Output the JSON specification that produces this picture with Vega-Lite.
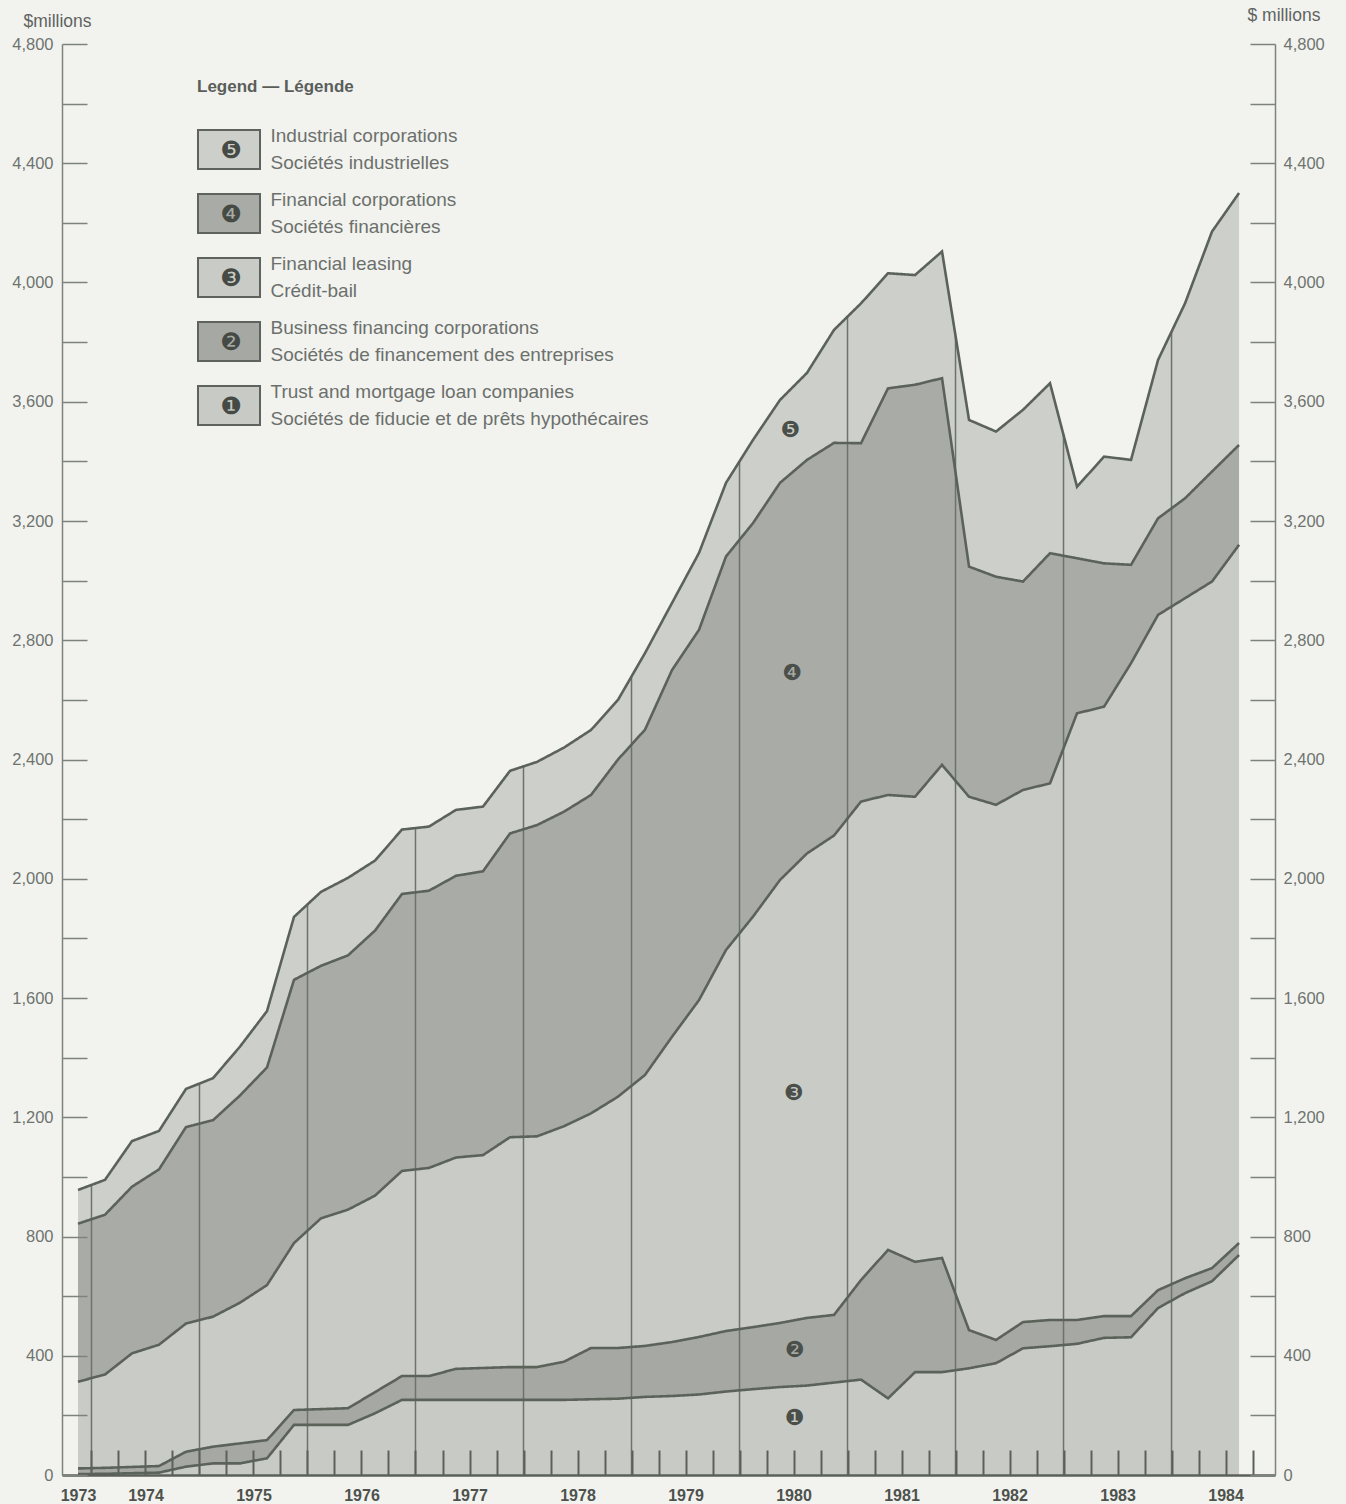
{
  "$schema": "https://vega.github.io/schema/vega-lite/v6.json",
  "width": 1213,
  "height": 1431,
  "autosize": {"type": "none"},
  "padding": {"left": 62, "top": 44, "right": 71, "bottom": 29},
  "background": "#f2f3ef",
  "config": {"view": {"stroke": null}, "font": "Liberation Sans"},
  "datasets": {
    "q": [
      {"t":1973.875,"1":3,"2":19,"3":291,"4":530,"5":113},
      {"t":1974.125,"1":4,"2":20,"3":313,"4":536,"5":117},
      {"t":1974.375,"1":6,"2":21,"3":381,"4":559,"5":153},
      {"t":1974.625,"1":8,"2":22,"3":407,"4":588,"5":129},
      {"t":1974.875,"1":28,"2":50,"3":430,"4":659,"5":128},
      {"t":1975.125,"1":39,"2":56,"3":436,"4":659,"5":141},
      {"t":1975.375,"1":39,"2":67,"3":472,"4":695,"5":164},
      {"t":1975.625,"1":56,"2":61,"3":520,"4":730,"5":189},
      {"t":1975.875,"1":168,"2":50,"3":560,"4":883,"5":211},
      {"t":1976.125,"1":168,"2":53,"3":640,"4":847,"5":248},
      {"t":1976.375,"1":168,"2":56,"3":666,"4":853,"5":260},
      {"t":1976.625,"1":207,"2":71,"3":659,"4":889,"5":235},
      {"t":1976.875,"1":252,"2":80,"3":688,"4":929,"5":216},
      {"t":1977.125,"1":252,"2":80,"3":698,"4":930,"5":215},
      {"t":1977.375,"1":252,"2":104,"3":709,"4":945,"5":221},
      {"t":1977.625,"1":252,"2":107,"3":714,"4":952,"5":217},
      {"t":1977.875,"1":252,"2":110,"3":771,"4":1019,"5":210},
      {"t":1978.125,"1":252,"2":110,"3":774,"4":1044,"5":212},
      {"t":1978.375,"1":252,"2":128,"3":790,"4":1055,"5":215},
      {"t":1978.625,"1":254,"2":172,"3":787,"4":1068,"5":218},
      {"t":1978.875,"1":256,"2":170,"3":843,"4":1131,"5":200},
      {"t":1979.125,"1":262,"2":171,"3":909,"4":1158,"5":257},
      {"t":1979.375,"1":265,"2":181,"3":1024,"4":1230,"5":225},
      {"t":1979.625,"1":270,"2":193,"3":1130,"4":1242,"5":258},
      {"t":1979.875,"1":280,"2":203,"3":1278,"4":1320,"5":247},
      {"t":1980.125,"1":288,"2":208,"3":1377,"4":1320,"5":279},
      {"t":1980.375,"1":295,"2":215,"3":1486,"4":1332,"5":278},
      {"t":1980.625,"1":300,"2":227,"3":1558,"4":1320,"5":292},
      {"t":1980.875,"1":310,"2":227,"3":1608,"4":1317,"5":379},
      {"t":1981.125,"1":320,"2":334,"3":1605,"4":1202,"5":469},
      {"t":1981.375,"1":257,"2":498,"3":1526,"4":1364,"5":386},
      {"t":1981.625,"1":345,"2":370,"3":1560,"4":1382,"5":368},
      {"t":1981.875,"1":345,"2":383,"3":1654,"4":1297,"5":425},
      {"t":1982.125,"1":358,"2":128,"3":1789,"4":772,"5":492},
      {"t":1982.375,"1":375,"2":78,"3":1795,"4":765,"5":487},
      {"t":1982.625,"1":425,"2":88,"3":1785,"4":699,"5":576},
      {"t":1982.875,"1":432,"2":88,"3":1800,"4":772,"5":570},
      {"t":1983.125,"1":440,"2":80,"3":2035,"4":520,"5":240},
      {"t":1983.375,"1":460,"2":73,"3":2044,"4":481,"5":358},
      {"t":1983.625,"1":462,"2":71,"3":2190,"4":330,"5":352},
      {"t":1983.875,"1":560,"2":60,"3":2265,"4":324,"5":531},
      {"t":1984.125,"1":610,"2":50,"3":2281,"4":335,"5":654},
      {"t":1984.375,"1":650,"2":44,"3":2303,"4":369,"5":805},
      {"t":1984.625,"1":738,"2":40,"3":2342,"4":335,"5":845}
    ],
    "series": [
      {"key":"1","num":"❶"},
      {"key":"2","num":"❷"},
      {"key":"3","num":"❸"},
      {"key":"4","num":"❹"},
      {"key":"5","num":"❺"}
    ],
    "years": [
      {"t":1974,"top":973},
      {"t":1975,"top":1313},
      {"t":1976,"top":1914},
      {"t":1977,"top":2170},
      {"t":1978,"top":2375},
      {"t":1979,"top":2680},
      {"t":1980,"top":3400},
      {"t":1981,"top":3885},
      {"t":1982,"top":3820},
      {"t":1983,"top":3490},
      {"t":1984,"top":3835}
    ],
    "tags": [
      {"t":1980.47,"v":3506,"n":"❺"},
      {"t":1980.49,"v":2690,"n":"❹"},
      {"t":1980.5,"v":1281,"n":"❸"},
      {"t":1980.51,"v":419,"n":"❷"},
      {"t":1980.51,"v":191,"n":"❶"}
    ]
  },
  "resolve": {"scale": {"y": "shared", "x": "shared"}, "axis": {"y": "independent", "x": "independent"}},
  "layer": [
    {
      "data": {"name": "q"},
      "transform": [{"fold": ["1","2","3","4","5"], "as": ["key","value"]}],
      "mark": {"type": "area"},
      "encoding": {
        "x": {
          "field": "t", "type": "quantitative",
          "scale": {"domain": [1973.727, 1984.958], "nice": false, "zero": false},
          "axis": {
            "orient": "bottom", "zindex": 1,
            "values": [1973.875,1974,1974.25,1974.5,1974.75,1975,1975.25,1975.5,1975.75,1976,1976.25,1976.5,1976.75,1977,1977.25,1977.5,1977.75,1978,1978.25,1978.5,1978.75,1979,1979.25,1979.5,1979.75,1980,1980.25,1980.5,1980.75,1981,1981.25,1981.5,1981.75,1982,1982.25,1982.5,1982.75,1983,1983.25,1983.5,1983.75,1984,1984.25,1984.5,1984.75],
            "labelExpr": "datum.value < 1974 ? '1973' : (abs(datum.value - floor(datum.value) - 0.5) < 0.01 ? format(floor(datum.value), 'd') : '')",
            "tickSize": -25, "tickWidth": 2, "tickColor": "#5b605b",
            "tickOpacity": {"condition": {"test": "datum.value < 1974", "value": 0}, "value": 1},
            "domainColor": "#5b605b", "domainWidth": 2.5,
            "labelPadding": 37, "labelFont": "Liberation Sans",
            "labelFontSize": 16, "labelFontWeight": "bold", "labelColor": "#4d524d",
            "labelOverlap": false, "labelFlush": false, "labelBound": false,
            "grid": false, "title": null
          }
        },
        "y": {
          "field": "value", "type": "quantitative", "stack": "zero",
          "scale": {"domain": [0, 4800], "nice": false, "zero": true},
          "axis": {
            "orient": "left", "zindex": 1,
            "values": [0,200,400,600,800,1000,1200,1400,1600,1800,2000,2200,2400,2600,2800,3000,3200,3400,3600,3800,4000,4200,4400,4600,4800],
            "labelExpr": "datum.value % 400 == 0 ? format(datum.value, ',') : ''",
            "labelOverlap": false,
            "tickSize": -25, "tickWidth": 1.5, "tickColor": "#7d827d",
            "domainColor": "#7d827d", "domainWidth": 1.5,
            "labelPadding": 34, "labelFontSize": 16.5, "labelColor": "#6f736f", "labelFont": "Liberation Sans",
            "title": "$millions", "titleAngle": 0, "titleAlign": "left", "titleBaseline": "alphabetic",
            "titleX": -39, "titleY": -18, "titleFontSize": 17.5, "titleFontWeight": "normal", "titleColor": "#5f635f", "titleFont": "Liberation Sans",
            "grid": false
          }
        },
        "order": {"sort": "ascending"},
        "color": {
          "field": "key", "type": "nominal",
          "scale": {"domain": ["5","4","3","2","1"], "range": ["#cdd0ca","#a9aca6","#c9ccc6","#a6a9a3","#c8cbc5"]},
          "legend": {
            "orient": "none", "legendX": 135, "legendY": 35, "padding": 0,
            "title": "Legend — Légende", "titleFont": "Liberation Sans", "titleFontSize": 17, "titleFontWeight": "bold", "titleColor": "#5a5e5a", "titlePadding": 33,
            "symbolType": "M-1.59,-1H1.59V1H-1.59Z", "symbolSize": 1521, "symbolStrokeColor": "#5e635e", "symbolStrokeWidth": 2, "symbolOffset": 11.5, "symbolOpacity": 1,
            "labelExpr": "datum.label == '5' ? ['Industrial corporations', 'Sociétés industrielles'] : datum.label == '4' ? ['Financial corporations', 'Sociétés financières'] : datum.label == '3' ? ['Financial leasing', 'Crédit-bail'] : datum.label == '2' ? ['Business financing corporations', 'Sociétés de financement des entreprises'] : ['Trust and mortgage loan companies', 'Sociétés de fiducie et de prêts hypothécaires']",
            "labelFont": "Liberation Sans", "labelFontSize": 19, "labelColor": "#6c706c", "labelOffset": 21, "labelLimit": 600,
            "rowPadding": 17,
            "encode": {"labels": {"update": {"lineHeight": {"value": 27}, "dy": {"value": -13.5}}}}
          }
        }
      }
    },
    {
      "data": {"name": "years"},
      "mark": {"type": "rule", "color": "#6c726c", "strokeWidth": 1.5},
      "encoding": {
        "x": {"field": "t", "type": "quantitative", "scale": {"domain": [1973.727, 1984.958], "nice": false, "zero": false}, "axis": null},
        "y": {
          "field": "top", "type": "quantitative",
          "scale": {"domain": [0, 4800], "nice": false, "zero": true},
          "axis": {
            "orient": "right", "zindex": 1,
            "values": [0,200,400,600,800,1000,1200,1400,1600,1800,2000,2200,2400,2600,2800,3000,3200,3400,3600,3800,4000,4200,4400,4600,4800],
            "labelExpr": "datum.value % 400 == 0 ? format(datum.value, ',') : ''",
            "labelOverlap": false,
            "tickSize": -25, "tickWidth": 1.5, "tickColor": "#7d827d",
            "domainColor": "#7d827d", "domainWidth": 1.5,
            "labelPadding": 33, "labelFontSize": 16.5, "labelColor": "#6f736f", "labelFont": "Liberation Sans",
            "title": "$ millions", "titleAngle": 0, "titleAlign": "left", "titleBaseline": "alphabetic",
            "titleX": -28, "titleY": -24, "titleFontSize": 17.5, "titleFontWeight": "normal", "titleColor": "#5f635f", "titleFont": "Liberation Sans",
            "grid": false
          }
        },
        "y2": {"datum": 0}
      }
    },
    {
      "data": {"name": "q"},
      "transform": [
        {"fold": ["1","2","3","4","5"], "as": ["key","value"]},
        {"lookup": "key", "from": {"data": {"name": "series"}, "key": "key", "fields": ["num"]}}
      ],
      "mark": {"type": "line", "color": "#5a625a", "strokeWidth": 2.6},
      "encoding": {
        "x": {"field": "t", "type": "quantitative", "scale": {"domain": [1973.727, 1984.958], "nice": false, "zero": false}, "axis": null},
        "y": {"field": "value", "type": "quantitative", "stack": "zero", "scale": {"domain": [0, 4800], "nice": false, "zero": true}, "axis": null},
        "order": {"sort": "ascending"},
        "strokeDash": {
          "field": "num", "type": "nominal",
          "scale": {"domain": ["❺","❹","❸","❷","❶"], "range": [[1,0],[1,0],[1,0],[1,0],[1,0]]},
          "legend": {
            "orient": "none", "legendX": 145, "legendY": 95, "padding": 0, "title": null,
            "symbolOpacity": 0, "symbolSize": 0, "symbolStrokeWidth": 0,
            "labelAlign": "center", "labelOffset": 0, "labelFont": "DejaVu Sans", "labelFontSize": 24, "labelColor": "#454a45",
            "rowPadding": 40
          }
        }
      }
    },
    {
      "data": {"name": "tags"},
      "mark": {"type": "text", "font": "DejaVu Sans", "fontSize": 22, "color": "#4a4f4a"},
      "encoding": {
        "x": {"field": "t", "type": "quantitative", "scale": {"domain": [1973.727, 1984.958], "nice": false, "zero": false}, "axis": null},
        "y": {"field": "v", "type": "quantitative", "scale": {"domain": [0, 4800], "nice": false, "zero": true}, "axis": null},
        "text": {"field": "n"}
      }
    }
  ]
}
